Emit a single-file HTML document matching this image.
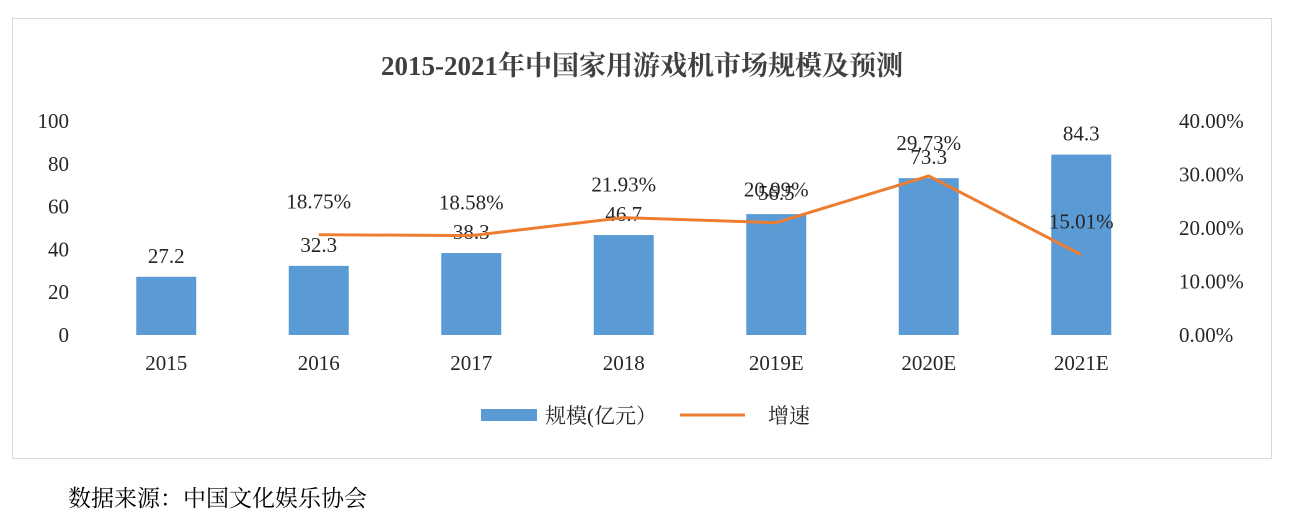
<!DOCTYPE html>
<html><head><meta charset="utf-8"><style>
body{margin:0;background:#fff;width:1292px;height:520px;overflow:hidden;font-family:"Liberation Serif","Noto Serif CJK SC",serif;}
</style></head><body>
<svg width="1292" height="520" xmlns="http://www.w3.org/2000/svg">
<rect x="12.5" y="18.5" width="1259" height="440" fill="#fff" stroke="#d9d9d9"/>
<text x="642" y="75" text-anchor="middle" font-size="27" font-weight="bold" fill="#404040" font-family="Liberation Serif, Noto Serif CJK SC, serif">2015-2021年中国家用游戏机市场规模及预测</text>
<g id="g"></g>
<g>
<rect x="481" y="409" width="56" height="12" fill="#5b9bd5"/>
<text x="545" y="423" font-size="21" fill="#262626" font-family="Liberation Serif, Noto Serif CJK SC, serif">规模(亿元）</text>
<line x1="680" y1="415" x2="745" y2="415" stroke="#ed7d31" stroke-width="3"/>
<text x="768" y="423" font-size="21" fill="#262626" font-family="Liberation Serif, Noto Serif CJK SC, serif">增速</text>
</g>
<text x="68" y="506" font-size="23" fill="#000" font-family="Liberation Serif, Noto Serif CJK SC, serif">数据来源：中国文化娱乐协会</text>
</svg>
<script>
const categories=["2015","2016","2017","2018","2019E","2020E","2021E"];
const sizes=[27.2,32.3,38.3,46.7,56.5,73.3,84.3];
const growth=[null,18.75,18.58,21.93,20.99,29.73,15.01];
const leftTicks=[0,20,40,60,80,100];
const rightTicks=[0,10,20,30,40];
const NS="http://www.w3.org/2000/svg";
const g=document.getElementById('g');
const x0=90,step=152.5,y0=335,yTop=121;
const xc=i=>x0+step*(i+0.5);
const yL=v=>y0-(v/100)*(y0-yTop);
const yR=v=>y0-(v/40)*(y0-yTop);
function mk(t,a,txt){const e=document.createElementNS(NS,t);for(const k in a)e.setAttribute(k,a[k]);if(txt!=null)e.textContent=txt;g.appendChild(e);return e;}
leftTicks.forEach(v=>{const e=mk('text',{x:69,y:yL(v)+7,'text-anchor':'end','font-size':21,fill:'#262626'},v);

});
rightTicks.forEach(v=>{const e=mk('text',{x:1179,y:yR(v)+7,'font-size':21,fill:'#262626'},v.toFixed(2)+'%');

});
categories.forEach((c,i)=>{const e=mk('text',{x:xc(i),y:370,'text-anchor':'middle','font-size':21,fill:'#262626'},c);

});
sizes.forEach((v,i)=>{const b=mk('rect',{x:xc(i)-30,y:yL(v),width:60,height:y0-yL(v),fill:'#5b9bd5'});


const t=mk('text',{x:xc(i),y:yL(v)-14,'text-anchor':'middle','font-size':21,fill:'#262626'},v.toFixed(1));

});
let pts=[];growth.forEach((v,i)=>{if(v!=null)pts.push(xc(i)+','+yR(v));});
const l=mk('polyline',{points:pts.join(' '),fill:'none',stroke:'#ed7d31','stroke-width':3,'stroke-linejoin':'round'});


growth.forEach((v,i)=>{if(v==null)return;const t=mk('text',{x:xc(i),y:yR(v)-26,'text-anchor':'middle','font-size':21,fill:'#262626'},v.toFixed(2)+'%');

});
</script>
</body></html>
